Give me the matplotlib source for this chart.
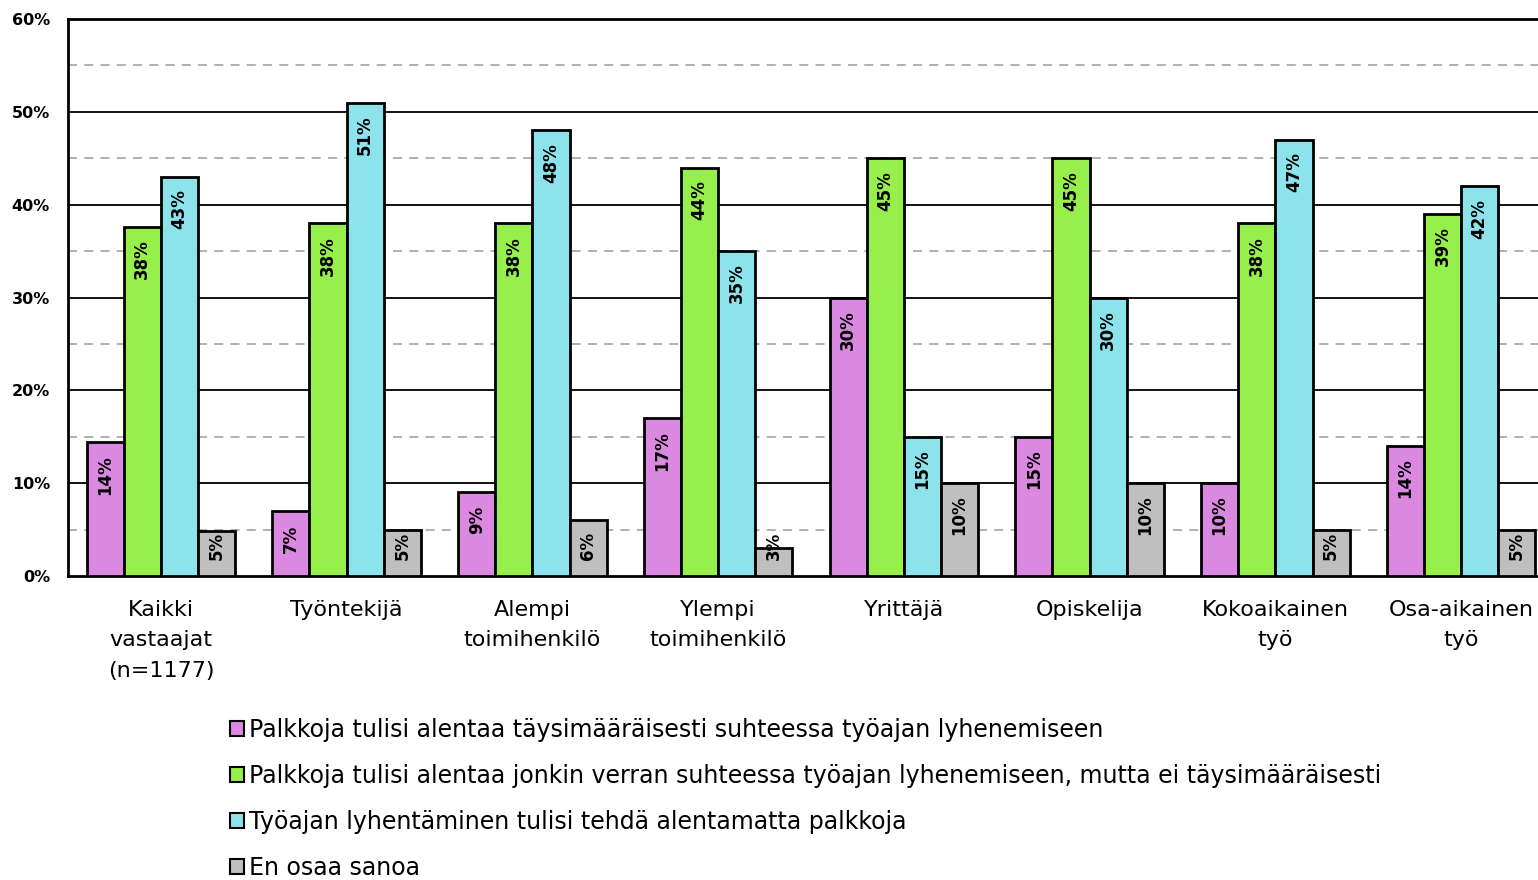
import numpy as np
import matplotlib.pyplot as plt
from matplotlib.patches import Patch

plt.rcParams['font.family'] = ['DejaVu Sans']

categories = ['Kaikki\nvastaajat\n(n=1177)', 'Työntekijä', 'Alempi\ntoimihenkilö',
              'Ylempi\ntoimihenkilö', 'Yrittäjä', 'Opiskelija', 'Kokoaikainen\ntyö',
              'Osa-aikainen\ntyö']
series_names = ['Palkkoja tulisi alentaa täysimääräisesti suhteessa työajan lyhenemiseen',
                'Palkkoja tulisi alentaa jonkin verran suhteessa työajan lyhenemiseen, mutta ei täysimääräisesti',
                'Työajan lyhentäminen tulisi tehdä alentamatta palkkoja',
                'En osaa sanoa']
taysin = [14.4, 7, 9, 17, 30, 15, 10, 14]
jonkin = [37.6, 38, 38, 44, 45, 45, 38, 39]
alentamatta = [43, 51, 48, 35, 15, 30, 47, 42]
eos = [4.9, 5, 6, 3, 10, 10, 5, 5]
colors = ['#DB88E0', '#96EF4B', '#8DE3EC', '#BFBFBF']

fig = plt.figure(figsize=(15.38, 8.80), dpi=100)
ax = fig.add_axes([68/1538, 1-576/880, (1554-68)/1538, (576-19)/880])

x = np.arange(len(categories))
w = 0.2
for i, vals in enumerate([taysin, jonkin, alentamatta, eos]):
    pos = x + (i - 1.5) * w
    ax.bar(pos, vals, w, color=colors[i], edgecolor='black', linewidth=2, zorder=3)
    for p, v in zip(pos, vals):
        lab = '%d%%' % round(v)
        half = 2.0 if len(lab) == 3 else 1.5
        c = max(v - 1.5 - half, 3.2)
        ax.text(p, c, lab, rotation=90, ha='center', va='center',
                fontsize=12, fontweight='bold', zorder=4)

for g in range(10, 60, 10):
    ax.axhline(g, color='black', linewidth=1.3, zorder=1)
for g in range(5, 60, 10):
    ax.axhline(g, color='#AAAAAA', linewidth=1.3, linestyle=(0, (5, 4)), zorder=1)

ax.set_ylim(0, 60)
ax.set_xlim(-0.5, 7.5)
ax.set_yticks(range(0, 61, 10))
ax.set_yticklabels(['%d%%' % t for t in range(0, 61, 10)], fontsize=11.5, fontweight='bold')
ax.set_xticks(x)
ax.set_xticklabels(categories, fontsize=16, linespacing=1.68)
ax.tick_params(axis='both', length=0)
ax.tick_params(axis='x', pad=17)
ax.tick_params(axis='y', pad=13)
for s in ax.spines.values():
    s.set_linewidth(2)

handles = [Patch(facecolor=c, edgecolor='black', linewidth=1.5) for c in colors]
fig.legend(handles, series_names, loc='upper left', bbox_to_anchor=(218/1538, 1-706/880),
           frameon=False, fontsize=17, handlelength=0.62, handleheight=0.62,
           handletextpad=0.2, labelspacing=0.93, borderpad=0)

fig.savefig('out.png', dpi=100)
